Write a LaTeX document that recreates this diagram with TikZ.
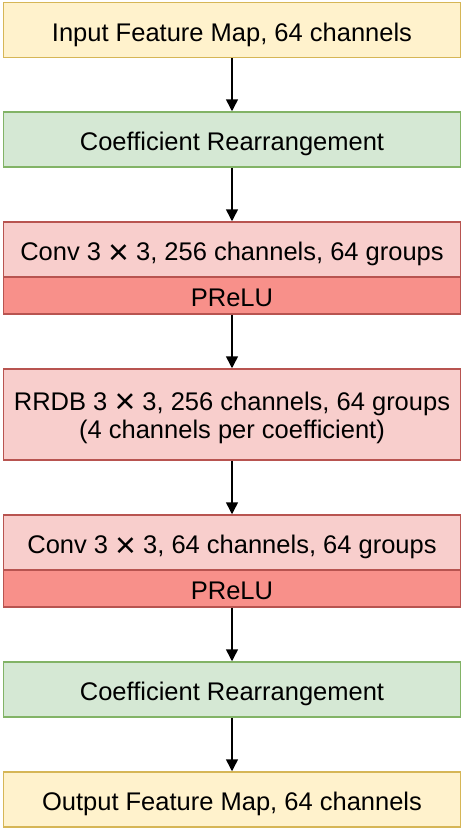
\documentclass[tikz,border=0pt]{standalone}
\usepackage{fontspec}
\setmainfont{Liberation Sans}
\usetikzlibrary{arrows.meta}
\definecolor{yfill}{HTML}{FFF2CC}
\definecolor{ydraw}{HTML}{D6B656}
\definecolor{gfill}{HTML}{D5E8D4}
\definecolor{gdraw}{HTML}{82B366}
\definecolor{rfill}{HTML}{F8CECC}
\definecolor{rdraw}{HTML}{B85450}
\definecolor{pfill}{HTML}{F8908A}
\newcommand{\bigtimes}{\raisebox{-3.5pt}{\scalebox{1.4}{×}}}
\tikzset{
  box/.style={draw, line width=1.5pt, minimum width=457pt, inner sep=0pt, align=center,
    font=\fontsize{25.5}{28}\selectfont, text height=22pt, text depth=0pt},
  ybox/.style={box, fill=yfill, draw=ydraw, minimum height=55pt},
  gbox/.style={box, fill=gfill, draw=gdraw, minimum height=55pt},
  rbox/.style={box, fill=rfill, draw=rdraw, minimum height=55pt},
  pbox/.style={box, fill=pfill, draw=rdraw, minimum height=37pt},
  arr/.style={line width=1.5pt, -{Triangle[length=12pt,width=12pt]}}
}
\begin{document}
\begin{tikzpicture}[x=1pt,y=-1pt]
\useasboundingbox (0,0) rectangle (464,830);
\node[ybox] (in) at (232,30) {Input Feature Map, 64 channels};
\node[gbox] (cr1) at (232,139.5) {Coefficient Rearrangement};
\node[rbox] (c1) at (232,249.5) {Conv 3 \bigtimes{} 3, 256 channels, 64 groups};
\node[pbox] (p1) at (232,295.5) {PReLU};
\node[rbox, minimum height=91pt, text height=47pt, text depth=0pt] (rrdb) at (232,414.5) {RRDB 3 \bigtimes{} 3, 256 channels, 64 groups\\(4 channels per coefficient)};
\node[rbox] (c2) at (232,542.5) {Conv 3 \bigtimes{} 3, 64 channels, 64 groups};
\node[pbox] (p2) at (232,588.5) {PReLU};
\node[gbox] (cr2) at (232,689.5) {Coefficient Rearrangement};
\node[ybox] (out) at (232,799.5) {Output Feature Map, 64 channels};
\draw[arr] (in) -- (cr1);
\draw[arr] (cr1) -- (c1);
\draw[arr] (p1) -- (rrdb);
\draw[arr] (rrdb) -- (c2);
\draw[arr] (p2) -- (cr2);
\draw[arr] (cr2) -- (out);
\end{tikzpicture}
\end{document}
